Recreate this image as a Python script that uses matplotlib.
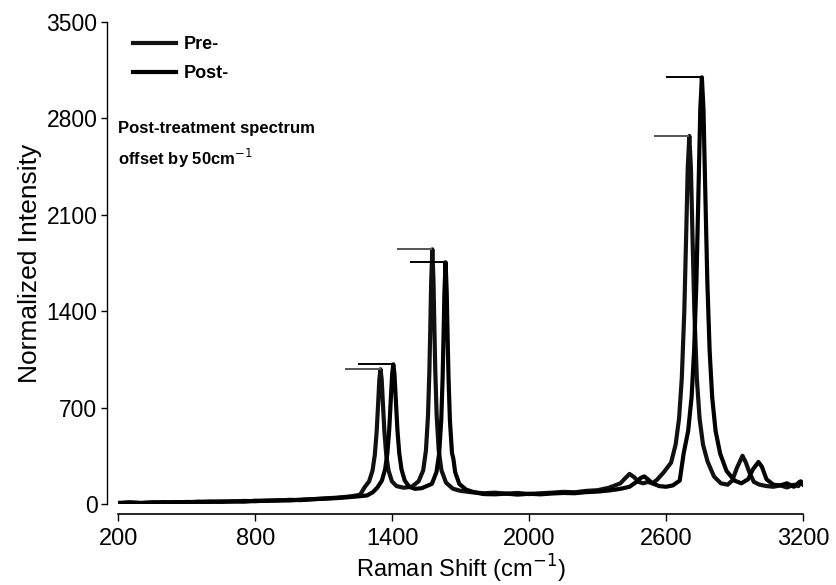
import numpy as np
import matplotlib
matplotlib.use("Agg")
import matplotlib.pyplot as plt

plt.rcParams['font.family'] = ['Liberation Sans', 'DejaVu Sans']

# pre-treatment spectrum (Raman shift, intensity)
pre_x = [200, 250, 300, 350, 400, 450, 500, 550, 600, 650, 700, 750, 800, 850, 900, 950,
         1000, 1050, 1100, 1150, 1200, 1230, 1260, 1279, 1299, 1314, 1324, 1332, 1339, 1344,
         1349, 1354, 1359, 1366, 1374, 1384, 1399, 1419, 1450, 1486, 1516, 1536, 1548, 1557,
         1563, 1567, 1571, 1576, 1581, 1585, 1589, 1595, 1604, 1616, 1636, 1666, 1700, 1750,
         1800, 1850, 1900, 1950, 2000, 2050, 2100, 2150, 2200, 2250, 2300, 2350, 2400, 2420,
         2440, 2460, 2480, 2500, 2520, 2540, 2560, 2590, 2622, 2642, 2657, 2669, 2680, 2688,
         2695, 2702, 2709, 2716, 2724, 2735, 2747, 2762, 2782, 2810, 2840, 2870, 2890, 2910,
         2935, 2950, 2965, 2985, 3010, 3040, 3070, 3100, 3130, 3160, 3180, 3190, 3200]
pre_y = [8, 12, 6, 10, 14, 9, 15, 12, 18, 14, 20, 16, 24, 22, 28, 25,
         32, 35, 40, 45, 52, 58, 68, 121, 164, 243, 357, 524, 745, 906,
         978, 906, 745, 524, 357, 243, 164, 130, 118, 125, 165, 244, 389, 641,
         962, 1274, 1620, 1849, 1620, 1274, 962, 641, 389, 244, 155, 111, 95, 85,
         78, 82, 75, 80, 72, 78, 82, 88, 85, 95, 100, 118, 150, 185,
         218, 195, 160, 150, 160, 150, 175, 230, 300, 431, 620, 911, 1400, 1938,
         2437, 2672, 2437, 1938, 1400, 911, 620, 431, 308, 200, 150, 140, 170, 260,
         350, 300, 230, 160, 140, 130, 125, 135, 120, 140, 130, 165, 150]

# post-treatment spectrum (already offset by 50 cm-1)
post_x = [200, 250, 300, 350, 400, 450, 500, 550, 600, 650, 700, 750, 800, 850, 900, 950,
          1000, 1050, 1100, 1150, 1200, 1250, 1290, 1315, 1335, 1355, 1369, 1379, 1387, 1395,
          1400, 1405, 1410, 1415, 1423, 1431, 1441, 1455, 1475, 1500, 1530, 1544, 1574, 1594,
          1606, 1615, 1621, 1625, 1629, 1634, 1639, 1643, 1647, 1653, 1662, 1668, 1676, 1694,
          1724, 1760, 1800, 1850, 1900, 1950, 2000, 2050, 2100, 2150, 2200, 2250, 2300, 2350,
          2400, 2440, 2470, 2490, 2505, 2520, 2540, 2570, 2600, 2630, 2660, 2677, 2697, 2712,
          2723, 2733, 2742, 2750, 2757, 2764, 2772, 2781, 2791, 2802, 2817, 2837, 2865, 2900,
          2930, 2960, 2980, 3005, 3020, 3040, 3070, 3100, 3130, 3160, 3185, 3200]
post_y = [5, 10, 8, 12, 10, 14, 12, 17, 15, 19, 17, 22, 20, 25, 24, 30,
          28, 34, 38, 42, 48, 55, 62, 85, 119, 170, 251, 369, 537, 789,
          945, 1014, 945, 789, 537, 369, 251, 170, 125, 110, 115, 125, 146, 231,
          368, 608, 913, 1209, 1538, 1755, 1538, 1209, 913, 608, 370, 330, 231, 146,
          104, 85, 72, 70, 75, 68, 74, 70, 76, 80, 78, 86, 90, 98,
          110, 125, 160, 190, 200, 180, 150, 130, 125, 135, 170, 366, 531, 778,
          1112, 1609, 2261, 2866, 3098, 2866, 2261, 1609, 1112, 778, 531, 366, 240, 170,
          150, 180, 250, 305, 270, 180, 140, 135, 150, 125, 160, 140]

# peak tops marked with short horizontal bars
pre_peak_x = [1349, 1576, 2702]
pre_peak_y = [978, 1849, 2672]
post_peak_x = [1405, 1634, 2757]
post_peak_y = [1014, 1755, 3098]

fig = plt.figure(figsize=(8.36, 5.85), dpi=100)
ax = fig.add_axes([0.1415, 0.1385, 0.819, 0.824])

ax.plot(pre_x, pre_y, color='#111111', lw=3, label='Pre-')
ax.plot(post_x, post_y, color='black', lw=3, label='Post-')

bar_len = 155
ax.hlines(pre_peak_y, np.array(pre_peak_x) - bar_len, pre_peak_x, color='#555555', lw=1.4)
ax.hlines(post_peak_y, np.array(post_peak_x) - bar_len, post_peak_x, color='black', lw=1.4)

ax.set_xlim(200, 3200)
ax.set_ylim(0, 3500)
ax.set_xticks([200, 800, 1400, 2000, 2600, 3200])
ax.set_yticks([0, 700, 1400, 2100, 2800, 3500])

for s in ['top', 'right']:
    ax.spines[s].set_visible(False)
ax.spines['left'].set_position(('outward', 8))
ax.spines['bottom'].set_position(('outward', 7))
ax.spines['left'].set_linewidth(1.0)
ax.spines['bottom'].set_linewidth(1.2)
ax.tick_params(axis='x', direction='out', length=5, width=1, labelsize=17, pad=5)
ax.tick_params(axis='y', direction='out', length=4, width=1, labelsize=16.5, pad=3)

ax.set_xlabel('Raman Shift (cm$^{-1}$)', fontsize=17, labelpad=2)
ax.set_ylabel('Normalized Intensity', fontsize=19)
ax.yaxis.set_label_coords(-0.112, 0.5)

ax.text(0.0, 0.795, 'Post-treatment spectrum\noffset by 50cm$^{-1}$', transform=ax.transAxes,
        fontsize=12, fontweight='bold', va='top', ha='left', linespacing=1.6)

ax.legend(loc='upper left', bbox_to_anchor=(0.0, 1.0), frameon=False,
          prop={'size': 13, 'weight': 'bold'},
          handlelength=2.4, handletextpad=0.4, labelspacing=0.65, borderaxespad=0.4)

fig.savefig('out.png', dpi=100)
